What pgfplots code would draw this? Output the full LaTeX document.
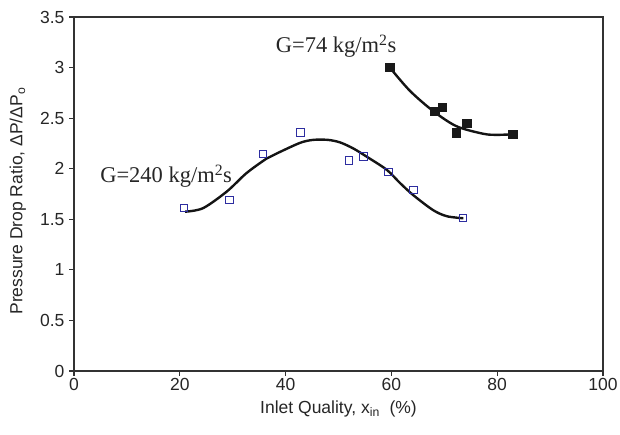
\documentclass[border=0pt]{standalone}
\usepackage{fontspec}
\setmainfont{Liberation Sans}
\newfontfamily\seriffont{Liberation Serif}
\usepackage{pgfplots}
\pgfplotsset{compat=1.18}
\definecolor{markblue}{RGB}{45,45,160}
\definecolor{axisgray}{RGB}{50,50,50}
\begin{document}
\begin{tikzpicture}
\useasboundingbox (0,0) rectangle (620pt,435pt);
\begin{axis}[
  at={(74pt,64pt)}, anchor=south west,
  scale only axis, width=529pt, height=354pt,
  xmin=0, xmax=100, ymin=0, ymax=3.5,
  xtick={0,20,40,60,80,100},
  ytick={0,0.5,1,1.5,2,2.5,3,3.5},
  tick align=outside, tick pos=left,
  major tick length=5pt,
  axis line style={axisgray, line width=1.2pt},
  every tick/.style={axisgray, line width=1.2pt},
  /pgf/number format/assume math mode=true,
  tick label style={font=\fontsize{17.5}{20}\selectfont, text=black!85},
  xticklabel style={yshift=1pt},
  yticklabel style={xshift=-1pt},
  label style={font=\fontsize{17.5}{20}\selectfont, text=black!85},
  xlabel={Inlet Quality, x\textsubscript{in}\ \ (\%)},
  ylabel={Pressure Drop Ratio, ΔP/ΔP\textsubscript{o}},
  xlabel style={at={(axis description cs:0.5,-0.1073)}, anchor=center},
  ylabel style={at={(axis description cs:-0.106,0.48)}, anchor=center},
]
% G = 240 kg/m^2 s: fitted trend
\addplot[black!92, line width=2.4pt, smooth, no marks] coordinates {
  (21,1.575) (24.4,1.61) (28.9,1.775) (32.6,1.956) (36.4,2.10) (38.3,2.15)
  (42.7,2.255) (45.2,2.285) (48,2.285) (50.3,2.26) (52.8,2.20) (55.3,2.12)
  (59.1,1.99) (61.6,1.86) (64.1,1.74) (67.9,1.59) (70.5,1.53) (73.6,1.51)
};
% G = 74 kg/m^2 s: fitted trend
\addplot[black!92, line width=2.4pt, smooth, no marks] coordinates {
  (59.7,3.0) (63.5,2.77) (67.9,2.57) (72.3,2.42) (77.4,2.345) (80,2.335) (82.9,2.34)
};
% G = 240 kg/m^2 s: measurements
\addplot[only marks, mark=square, mark size=3.8pt, mark options={markblue, line width=1pt, fill=white}] coordinates {
  (20.8,1.61) (29.4,1.69) (35.7,2.144) (42.8,2.358) (52.0,2.08)
  (54.7,2.12) (59.4,1.966) (64.2,1.788) (73.5,1.511)
};
% G = 74 kg/m^2 s: measurements
\addplot[only marks, mark=square*, mark size=4.2pt, mark options={black!90, fill=black!90}] coordinates {
  (59.7,3.005) (69.6,2.61) (68.2,2.566) (74.2,2.45) (72.2,2.355) (82.9,2.342)
};
\node[anchor=base west, font=\seriffont\fontsize{22.5}{25}\selectfont, text=black!85]
  at (axis cs:4.3,1.86) {G=240 kg/m\textsuperscript{2}s};
\node[anchor=base west, font=\seriffont\fontsize{22.5}{25}\selectfont, text=black!85]
  at (axis cs:37.5,3.147) {G=74 kg/m\textsuperscript{2}s};
\end{axis}
\end{tikzpicture}
\end{document}
